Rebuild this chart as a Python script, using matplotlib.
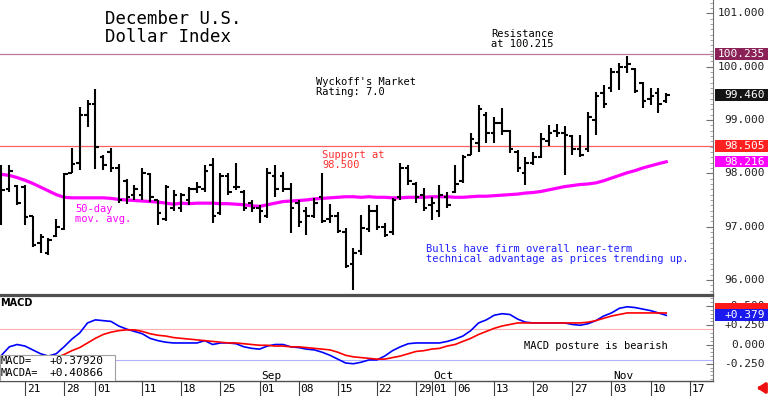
import numpy as np
import pandas as pd
import matplotlib.pyplot as plt
from matplotlib.patches import Rectangle

plt.rcParams['font.family'] = ['DejaVu Sans Mono', 'DejaVu Sans']

# trading days on the chart (Dec US Dollar Index futures, 2025)
days = pd.bdate_range('2025-07-16', '2025-11-21')
n_bars = 86

opens = [98.00, 97.70, 97.77, 97.75, 97.20, 96.70, 96.50, 96.82, 96.95, 98.00,
         98.20, 99.10, 99.30, 98.30, 98.40, 98.10, 97.85, 97.60, 97.60, 97.98,
         97.50, 97.15, 97.35, 97.35, 97.50, 97.70, 97.70, 98.15, 97.25, 97.95,
         97.75, 97.65, 97.45, 97.35, 97.20, 97.95, 97.95, 97.70, 97.45, 97.30,
         97.20, 97.55, 97.15, 97.20, 96.90, 96.30, 96.55, 96.95, 97.30, 97.00,
         96.90, 97.55, 98.10, 97.80, 97.60, 97.40, 97.30, 97.55, 97.65, 97.85,
         98.35, 98.56, 99.10, 98.75, 98.95, 98.80, 98.40, 98.00, 98.20, 98.30,
         98.60, 98.80, 98.75, 98.70, 98.45, 98.45, 99.00, 99.50, 99.60, 99.90,
         100.00, 99.95, 99.70, 99.40, 99.50, 99.35]
highs = [98.15, 98.15, 97.78, 97.78, 97.20, 96.87, 96.78, 97.15, 98.00, 98.47,
         99.24, 99.37, 99.58, 98.34, 98.47, 98.18, 97.90, 97.78, 98.10, 98.00,
         97.50, 97.78, 97.69, 97.63, 97.74, 97.83, 98.15, 98.28, 98.00, 98.00,
         98.19, 97.69, 97.50, 97.40, 98.10, 98.15, 98.02, 97.82, 97.50, 97.37,
         97.53, 98.00, 97.43, 97.27, 96.97, 96.60, 97.21, 97.40, 97.40, 97.06,
         97.53, 98.20, 98.15, 97.83, 97.72, 97.56, 97.78, 97.65, 98.15, 98.34,
         98.75, 99.28, 99.15, 99.05, 99.22, 98.81, 98.44, 98.30, 98.40, 98.75,
         98.90, 98.92, 98.88, 98.72, 98.72, 99.15, 99.52, 99.66, 99.97, 100.07,
         100.20, 99.97, 99.71, 99.60, 99.60, 99.50]
lows = [97.03, 97.65, 97.40, 97.03, 96.62, 96.50, 96.47, 96.80, 96.93, 98.00,
        98.06, 98.87, 98.08, 98.06, 98.02, 97.45, 97.43, 97.50, 97.50, 97.46,
        97.03, 97.10, 97.30, 97.27, 97.40, 97.63, 97.65, 97.06, 97.21, 97.60,
        97.69, 97.30, 97.27, 97.06, 97.16, 97.55, 97.65, 96.88, 97.00, 96.85,
        97.16, 97.06, 97.06, 96.88, 96.22, 95.81, 96.47, 96.90, 96.93, 96.80,
        96.84, 97.50, 97.78, 97.44, 97.30, 97.12, 97.18, 97.35, 97.63, 97.82,
        98.34, 98.40, 98.57, 98.57, 98.72, 98.38, 98.02, 97.78, 98.15, 98.29,
        98.52, 98.68, 97.97, 98.34, 98.30, 98.40, 98.72, 99.22, 99.53, 99.56,
        99.88, 99.50, 99.22, 99.28, 99.13, 99.32]
closes = [97.69, 98.05, 97.45, 97.18, 96.65, 96.80, 96.75, 97.00, 97.98, 98.18,
          99.10, 99.30, 98.50, 98.15, 98.10, 97.50, 97.55, 97.70, 98.00, 97.55,
          97.25, 97.75, 97.60, 97.60, 97.70, 97.75, 98.05, 97.20, 97.95, 97.65,
          97.75, 97.35, 97.35, 97.30, 98.00, 97.70, 97.70, 97.35, 97.08, 97.20,
          97.45, 97.10, 97.20, 96.92, 96.27, 96.50, 96.97, 97.30, 97.00, 96.85,
          97.50, 98.10, 97.85, 97.55, 97.35, 97.45, 97.60, 97.40, 97.80, 98.30,
          98.65, 99.20, 98.75, 98.95, 98.80, 98.45, 98.10, 98.20, 98.30, 98.65,
          98.75, 98.75, 98.72, 98.45, 98.35, 99.05, 99.45, 99.30, 99.90, 100.00,
          100.05, 99.55, 99.35, 99.45, 99.30, 99.46]
ma50 = [97.98, 97.96, 97.92, 97.87, 97.81, 97.74, 97.67, 97.60, 97.55, 97.54,
        97.54, 97.54, 97.54, 97.54, 97.53, 97.51, 97.50, 97.49, 97.48, 97.47,
        97.46, 97.44, 97.42, 97.44, 97.43, 97.44, 97.44, 97.44, 97.43, 97.43,
        97.42, 97.41, 97.39, 97.38, 97.41, 97.44, 97.47, 97.48, 97.49, 97.50,
        97.52, 97.53, 97.54, 97.55, 97.56, 97.56, 97.55, 97.56, 97.55, 97.55,
        97.54, 97.54, 97.55, 97.55, 97.55, 97.56, 97.56, 97.56, 97.55, 97.55,
        97.56, 97.57, 97.57, 97.58, 97.59, 97.60, 97.61, 97.63, 97.64, 97.66,
        97.69, 97.72, 97.75, 97.77, 97.79, 97.80, 97.82, 97.86, 97.91, 97.96,
        98.01, 98.05, 98.10, 98.14, 98.18, 98.216]
macd = [-0.14, -0.03, 0.00, -0.02, -0.07, -0.12, -0.15, -0.12, -0.03, 0.07,
        0.15, 0.28, 0.32, 0.31, 0.30, 0.24, 0.20, 0.17, 0.14, 0.08,
        0.05, 0.03, 0.02, 0.02, 0.02, 0.02, 0.05, 0.00, 0.02, 0.02,
        0.01, -0.03, -0.05, -0.06, -0.02, 0.00, 0.00, -0.03, -0.04, -0.06,
        -0.07, -0.10, -0.14, -0.19, -0.24, -0.25, -0.23, -0.20, -0.20, -0.15,
        -0.08, -0.03, 0.01, 0.02, 0.02, 0.02, 0.02, 0.04, 0.07, 0.11,
        0.18, 0.28, 0.32, 0.38, 0.40, 0.39, 0.33, 0.29, 0.28, 0.28,
        0.28, 0.28, 0.28, 0.26, 0.25, 0.27, 0.31, 0.37, 0.41, 0.47,
        0.49, 0.48, 0.46, 0.44, 0.41, 0.379]
macda = [-0.22, -0.21, -0.20, -0.19, -0.19, -0.19, -0.18, -0.17, -0.13, -0.08,
         -0.04, 0.02, 0.08, 0.13, 0.16, 0.18, 0.19, 0.19, 0.17, 0.14,
         0.12, 0.11, 0.09, 0.08, 0.07, 0.06, 0.05, 0.04, 0.03, 0.02,
         0.02, 0.01, 0.00, -0.01, -0.01, -0.02, -0.02, -0.03, -0.03, -0.04,
         -0.05, -0.06, -0.07, -0.10, -0.14, -0.16, -0.17, -0.18, -0.19, -0.19,
         -0.17, -0.15, -0.12, -0.09, -0.08, -0.06, -0.05, -0.02, 0.00, 0.04,
         0.08, 0.13, 0.17, 0.21, 0.24, 0.26, 0.28, 0.28, 0.28, 0.28,
         0.28, 0.28, 0.28, 0.28, 0.28, 0.29, 0.31, 0.34, 0.37, 0.39,
         0.41, 0.41, 0.41, 0.41, 0.41, 0.409]

tick_dates = ['2025-07-21', '2025-07-28', '2025-08-01', '2025-08-11', '2025-08-18',
              '2025-08-25', '2025-09-01', '2025-09-08', '2025-09-15', '2025-09-22',
              '2025-09-29', '2025-10-01', '2025-10-06', '2025-10-13', '2025-10-20',
              '2025-10-27', '2025-11-03', '2025-11-10', '2025-11-17']
tick_labels = ['21', '28', '01', '11', '18', '25', '01', '08', '15', '22',
               '29', '01', '06', '13', '20', '27', '03', '10', '17']
month_dates = ['2025-09-01', '2025-10-01', '2025-11-03']
month_labels = ['Sep', 'Oct', 'Nov']

price_ticks = [96, 97, 98, 99, 100, 101]
macd_ticks = [0.5, 0.25, 0.0, -0.25]
macd_tick_labels = ['+0.500', '+0.250', '0.000', '-0.250']

resistance = 100.235
support = 98.505
last_close = 99.460
last_ma = 98.216
last_macd = 0.37920
last_macda = 0.40866

W, H = 768, 396
def fx(px):
    return px / W
def fy(py):
    return 1 - py / H

fig = plt.figure(figsize=(7.68, 3.96), dpi=100)
x = np.arange(n_bars)
xlim = (-0.19, 90.98)
lab_x = 765 / 713

# ---- price panel
ax = fig.add_axes([0, fy(295), 713 / W, fy(0) - fy(295)])
ax.set_xlim(*xlim)
ax.set_ylim(95.717, 101.251)

ax.axhline(resistance, color='#b8789a', lw=0.9, zorder=1)
ax.axhline(support, color='#ff6060', lw=0.9, zorder=1)
ax.plot(x, ma50, color='#ff00ff', lw=2.3, zorder=2)
ax.vlines(x, lows, highs, color='black', lw=1.5, zorder=3)
ax.hlines(opens, x - 0.45, x, color='black', lw=1.5, zorder=3)
ax.hlines(closes, x, x + 0.45, color='black', lw=1.5, zorder=3)

for s in ['top', 'left']:
    ax.spines[s].set_visible(False)
ax.spines['bottom'].set_color('#505050')
ax.spines['bottom'].set_linewidth(1.6)
ax.spines['right'].set_color('#707070')
ax.spines['right'].set_linewidth(0.8)
ax.set_xticks([])
ax.yaxis.tick_right()
ax.set_yticks(price_ticks)
ax.set_yticklabels([])
ax.set_yticks(np.arange(95.8, 101.25, 0.1), minor=True)
ax.tick_params(axis='y', which='major', direction='in', length=5, color='#707070')
ax.tick_params(axis='y', which='minor', direction='in', length=2.5, color='#909090')
ytr = ax.get_yaxis_transform()
for v in price_ticks:
    ax.text(lab_x, v, f'{v:.3f}', transform=ytr, ha='right', va='center',
            fontsize=8, color='#222222', clip_on=False)

def badge(axis, value, text, color, h):
    axis.add_patch(Rectangle((715 / 713, value - h / 2), 53 / 713, h, transform=axis.get_yaxis_transform(),
                             facecolor=color, edgecolor='none', clip_on=False, zorder=6))
    if text:
        axis.text(lab_x, value, text, transform=axis.get_yaxis_transform(), ha='right', va='center',
                  fontsize=8, color='white', clip_on=False, zorder=7)

badge(ax, resistance, f'{resistance:.3f}', '#8b2257', 0.225)
badge(ax, last_close, f'{last_close:.3f}', '#141414', 0.225)
badge(ax, support, f'{support:.3f}', '#ff2020', 0.225)
badge(ax, last_ma, f'{last_ma:.3f}', '#ff00ff', 0.2)

fig.text(fx(105), fy(10), 'December U.S.\nDollar Index', fontsize=12.5, va='top', linespacing=1.0)
fig.text(fx(316), fy(77), "Wyckoff's Market\nRating: 7.0", fontsize=7.5, va='top', linespacing=1.05)
fig.text(fx(491), fy(29), 'Resistance\nat 100.215', fontsize=7.5, va='top', linespacing=1.05)
fig.text(fx(322), fy(150), 'Support at\n98.500', fontsize=7.5, va='top', linespacing=1.05, color='#ff3030')
fig.text(fx(75), fy(204), '50-day\nmov. avg.', fontsize=7.5, va='top', linespacing=1.05, color='#ff00ff')
fig.text(fx(426), fy(244), 'Bulls have firm overall near-term\ntechnical advantage as prices trending up.',
         fontsize=7.5, va='top', linespacing=1.05, color='#2020ff')

# ---- MACD panel
ax2 = fig.add_axes([0, fy(381), 713 / W, fy(296) - fy(381)])
ax2.set_xlim(*xlim)
ax2.set_ylim(-0.474, 0.63)
ax2.axhline(0.2, color='#ffb0b0', lw=0.8)
ax2.axhline(-0.2, color='#b0b0ff', lw=0.8)
ax2.plot(x, macd, color='#0000ff', lw=1.2)
ax2.plot(x, macda, color='#ff0000', lw=1.2)

ax2.spines['left'].set_visible(False)
ax2.spines['top'].set_color('#505050')
ax2.spines['top'].set_linewidth(1.6)
ax2.spines['bottom'].set_color('#505050')
ax2.spines['bottom'].set_linewidth(1.0)
ax2.spines['right'].set_color('#707070')
ax2.spines['right'].set_linewidth(0.8)
ax2.set_xticks([])
ax2.yaxis.tick_right()
ax2.set_yticks(macd_ticks)
ax2.set_yticklabels([])
ax2.set_yticks(np.arange(-0.45, 0.62, 0.05), minor=True)
ax2.tick_params(axis='y', which='major', direction='in', length=5, color='#707070')
ax2.tick_params(axis='y', which='minor', direction='in', length=2.5, color='#909090')
ytr2 = ax2.get_yaxis_transform()
for v, t in zip(macd_ticks, macd_tick_labels):
    ax2.text(lab_x, v, t, transform=ytr2, ha='right', va='center', fontsize=8,
             color='#222222', clip_on=False)

badge(ax2, 0.46, '', '#ff1a1a', 0.156)
badge(ax2, 0.383, f'{last_macd:+.3f}', '#1a1aee', 0.156)

ax2.text(0.0, 0.92, 'MACD', transform=ax2.transAxes, fontsize=7, weight='bold',
         family='DejaVu Sans', va='center', ha='left')
ax2.text(524 / 713, 0.41, 'MACD posture is bearish', transform=ax2.transAxes,
         fontsize=7.5, va='center', ha='left')

# date axis
xtr = ax2.get_xaxis_transform()
for d, lab in zip(tick_dates, tick_labels):
    i = days.get_loc(pd.Timestamp(d))
    ax2.plot([i, i], [0, -0.18], transform=xtr, color='#404040', lw=0.8, clip_on=False)
    ax2.text(i + 0.22, -0.095, lab, transform=xtr, fontsize=8, ha='left', va='center', clip_on=False)
for d, lab in zip(month_dates, month_labels):
    i = days.get_loc(pd.Timestamp(d))
    ax2.text(i + 0.25, 0.005, lab, transform=xtr, fontsize=8, ha='left', va='bottom', zorder=2)

# readout box
ax2.add_patch(Rectangle((0, 0), 115 / 713, 0.306, transform=ax2.transAxes, facecolor='white',
                        edgecolor='#a0a0a0', lw=0.8, zorder=5))
ax2.text(0.001, 0.235, 'MACD=', transform=ax2.transAxes, fontsize=7.5, va='center', zorder=6)
ax2.text(0.001, 0.094, 'MACDA=', transform=ax2.transAxes, fontsize=7.5, va='center', zorder=6)
ax2.text(50 / 713, 0.235, f'{last_macd:+.5f}', transform=ax2.transAxes, fontsize=8, va='center', zorder=6)
ax2.text(50 / 713, 0.094, f'{last_macda:+.5f}', transform=ax2.transAxes, fontsize=8, va='center', zorder=6)

ax2.annotate('', xy=(754, 8), xytext=(765, 8), xycoords='figure pixels', textcoords='figure pixels',
             arrowprops=dict(arrowstyle='-|>,head_width=0.3,head_length=0.45', color='#ee1111', lw=2.5),
             annotation_clip=False)

fig.savefig('out.png', dpi=100)
